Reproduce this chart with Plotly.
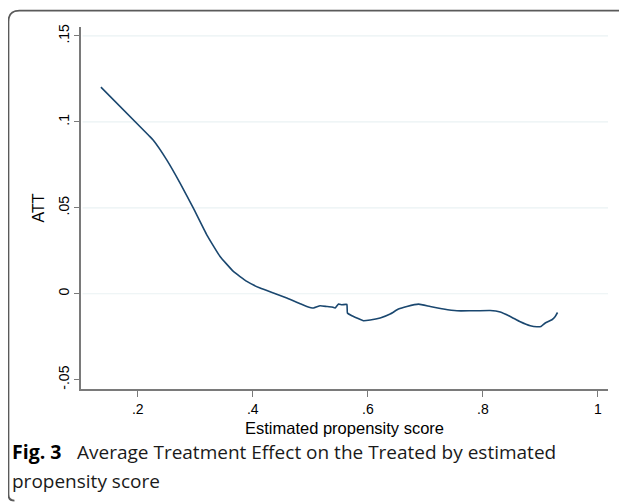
import plotly.graph_objects as go

# Data
ps = [0.136, 0.2197, 0.2271, 0.2504, 0.2736, 0.2967, 0.3200, 0.3431, 0.3663, 0.3896,
      0.4127, 0.4358, 0.4591, 0.4823, 0.4939, 0.5054, 0.5170, 0.5287, 0.5374, 0.5431,
      0.5489, 0.5548, 0.5635, 0.5645, 0.5722, 0.5809, 0.5923, 0.6040, 0.6214, 0.6388,
      0.6532, 0.6678, 0.6880, 0.7083, 0.7315, 0.7548, 0.7779, 0.8127, 0.8301, 0.8475,
      0.8649, 0.8823, 0.8939, 0.9009, 0.9083, 0.9200, 0.9257, 0.9297]
att = [0.1202, 0.0919, 0.0893, 0.0779, 0.0644, 0.0498, 0.0343, 0.0217, 0.0130, 0.0072,
       0.0033, 0.0004, -0.0025, -0.0058, -0.0074, -0.0083, -0.0070, -0.0074, -0.0077, -0.0083,
       -0.0060, -0.0064, -0.0062, -0.0112, -0.0128, -0.0141, -0.0157, -0.0153, -0.0141, -0.0118,
       -0.0089, -0.0074, -0.0060, -0.0074, -0.0089, -0.0099, -0.0099, -0.0097, -0.0106, -0.0132,
       -0.0163, -0.0186, -0.0192, -0.0190, -0.0170, -0.0151, -0.0132, -0.0109]

x_ticks = [0.2, 0.4, 0.6, 0.8, 1.0]
x_labels = [".2", ".4", ".6", ".8", "1"]
y_ticks = [-0.05, 0, 0.05, 0.1, 0.15]
y_labels = ["-.05", "0", ".05", ".1", ".15"]
grid_vals = [0, 0.05, 0.1, 0.15]

x_title = "Estimated propensity score"
y_title = "ATT"
fig_label = "Fig. 3"
caption1 = "Average Treatment Effect on the Treated by estimated"
caption2 = "propensity score"

# page body has an 8px margin, so the figure is laid out in (reference - 8) coordinates
OFF = 8
W, H = 627 - OFF, 503 - OFF
L, R, T, B = 81 - OFF, 19.3, 27 - OFF, 113.7
pw, ph = W - L - R, H - T - B


def px_x(p):
    return (p - OFF - L) / pw


def px_y(p):
    return (H - B - (p - OFF)) / ph


fig = go.Figure()
fig.add_trace(go.Scatter(x=ps, y=att, mode="lines",
                         line=dict(color="#1a476f", width=1.6, shape="spline", smoothing=0.35),
                         hoverinfo="skip", showlegend=False))

axis_col = "#7a7a7a"
fig.update_layout(
    width=W, height=H,
    margin=dict(l=L, r=R, t=T, b=B),
    paper_bgcolor="white", plot_bgcolor="white",
    font=dict(family="Liberation Sans, Arial, sans-serif", color="#000"),
    xaxis=dict(range=[0.1014, 1.0174], tickvals=x_ticks, ticktext=x_labels,
               showgrid=False, zeroline=False, showline=True, linecolor=axis_col, linewidth=1.6,
               ticks="outside", ticklen=6, tickcolor=axis_col, tickwidth=1.2,
               tickfont=dict(size=14, color="#000")),
    yaxis=dict(range=[-0.0554, 0.1552], tickvals=y_ticks, ticktext=y_labels,
               showgrid=False, zeroline=False, showline=True, linecolor=axis_col, linewidth=1.6,
               ticks="outside", ticklen=5, tickcolor=axis_col, tickwidth=1.2, tickangle=-90,
               tickfont=dict(size=14, color="#000")),
)

shapes = []
for g in grid_vals:
    shapes.append(dict(type="line", xref="paper", yref="y", x0=0.003, x1=1, y0=g, y1=g,
                       line=dict(color="#eaf2f3", width=1.2), layer="below"))

# rounded frame (top & left edges)
lx, ty, rx, by = px_x(8.5), px_y(10.7), px_x(626), px_y(501)
rdx, rdy = 11 / pw, 11 / ph
bdx, bdy = 6 / pw, 6 / ph
path = (f"M {rx},{ty} L {lx + rdx},{ty} Q {lx},{ty} {lx},{ty - rdy} "
        f"L {lx},{by + bdy} Q {lx},{by} {lx + bdx},{by}")
shapes.append(dict(type="path", xref="paper", yref="paper", path=path,
                   line=dict(color="#5a5a5a", width=1.8)))
fig.update_layout(shapes=shapes)

cap_font = dict(size=19, family="Open Sans, sans-serif", color="#1a1a1a")
ann = [
    dict(text=x_title, x=0.5, y=px_y(428.3), xref="paper", yref="paper",
         xanchor="center", yanchor="middle", showarrow=False,
         font=dict(size=16.5, family="Liberation Sans, Arial, sans-serif")),
    dict(text=y_title, x=px_x(38.5), y=0.5, xref="paper", yref="paper", textangle=-90,
         xanchor="center", yanchor="middle", showarrow=False,
         font=dict(size=16, family="Liberation Sans, Arial, sans-serif")),
    dict(text="<b>" + fig_label + "</b>", x=px_x(10), y=px_y(452), xref="paper", yref="paper",
         xanchor="left", yanchor="middle", showarrow=False,
         font=dict(size=19.5, family="Open Sans, sans-serif", color="#000")),
    dict(text=caption1, x=px_x(75), y=px_y(452), xref="paper", yref="paper",
         xanchor="left", yanchor="middle", showarrow=False, font=cap_font),
    dict(text=caption2, x=px_x(10), y=px_y(481), xref="paper", yref="paper",
         xanchor="left", yanchor="middle", showarrow=False, font=cap_font),
]
fig.update_layout(annotations=ann)

fig.write_html("out.html")
